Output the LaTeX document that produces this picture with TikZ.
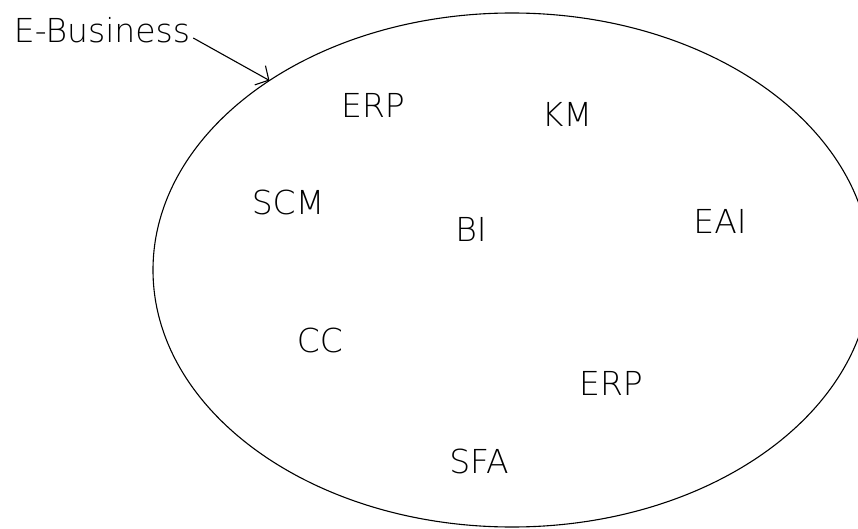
\documentclass[tikz,border=0pt]{standalone}
\usepackage{fontspec}
\setmainfont{DejaVu Sans ExtraLight}
\usepackage{tikz}
\usetikzlibrary{shapes.geometric,arrows.meta}

\begin{document}
\begin{tikzpicture}[x=1pt, y=-1pt,
  tag/.style={font=\fontsize{33}{36}\selectfont, inner sep=0pt},
  hand/.style={line width=1.1pt}]
  \useasboundingbox (0,0) rectangle (858,529);
  \clip (0,0) rectangle (858,529);

  \node[hand, draw, ellipse, inner sep=0pt, outer sep=0pt,
        minimum width=718pt, minimum height=514pt] (ebiz) at (512,270) {};

  \node[tag] (title) at (102,30) {E-Business};
  \draw[hand, -{Straight Barb[length=10pt,width=22pt]}]
    (title.east) ++(3,8) coordinate (tail) -- (ebiz.142);

  \node[tag] (erpa) at (373,105) {ERP};
  \node[tag] (km)   at (567,114) {KM};
  \node[tag] (scm)  at (288,202) {SCM};
  \node[tag] (bi)   at (471,229) {BI};
  \node[tag] (eai)  at (720,221) {EAI};
  \node[tag] (cc)   at (320,340) {CC};
  \node[tag] (erpb) at (611,383) {ERP};
  \node[tag] (sfa)  at (479,461) {SFA};
\end{tikzpicture}
\end{document}
